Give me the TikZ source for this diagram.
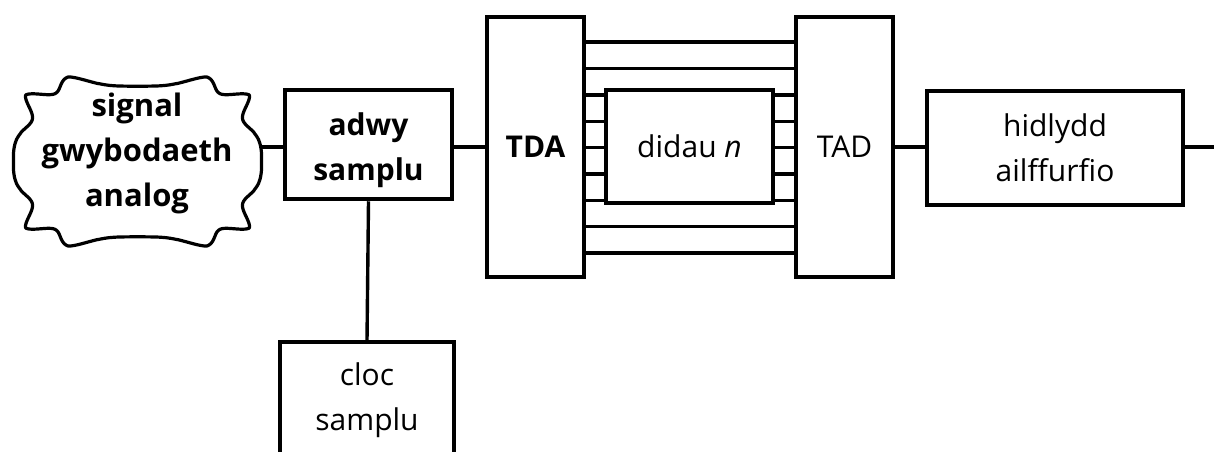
\documentclass[tikz,border=0pt]{standalone}
\usepackage{fontspec}
\setmainfont{Open Sans}[Ligatures=NoCommon]
\begin{document}
\begin{tikzpicture}[x=1pt,y=-1pt,
  thickbox/.style={draw,line width=4.5pt,inner sep=0pt,align=center,fill=white},
  thinbox/.style={draw,line width=3.4pt,inner sep=0pt,align=center,fill=white},
  conn/.style={line width=3.4pt},
  chan/.style={line width=3.4pt},
  lbl/.style={font=\fontsize{30}{45}\selectfont,align=center},
  blbl/.style={font=\fontsize{30}{45}\selectfont\bfseries,align=center}]
\useasboundingbox (0,0) rectangle (1214,451);
% cloud
\draw[line width=3.2pt,fill=white] plot[domain=0.25:360.25,samples=721,smooth,variable=\t]
  ({137.5+116*sign(cos(\t))*abs(cos(\t))^0.5*(1+0.07*(1-2*abs(sin(5*\t))^1.5))},
   {161.5+81*sign(sin(\t))*abs(sin(\t))^0.5*(1+0.07*(1-2*abs(sin(5*\t))^1.5))}) -- cycle;
\node[blbl,font=\fontsize{31}{45}\selectfont\bfseries] (cloud) at (137,153) {signal\\gwybodaeth\\analog};
\coordinate (cloudE) at (261,147);
% boxes
\node[thickbox,minimum width=167pt,minimum height=109pt] (adwy) at (368.5,144.5) {};
\node[blbl] (adwyT) at (368.5,150) {adwy\\samplu};
\node[thinbox,minimum width=174pt,minimum height=160pt] (cloc) at (367,422) {};
\node[lbl] (clocT) at (367,400) {cloc\\samplu};
\node[thickbox,blbl,minimum width=97pt,minimum height=260pt] (TDA) at (535.5,147) {TDA};
\node[thickbox,lbl,minimum width=97pt,minimum height=260pt] (TAD) at (844.5,147) {TAD};
\node[thickbox,lbl,minimum width=167pt,minimum height=113pt] (didau) at (689.5,146.5) {didau \textit{n}};
\node[thickbox,lbl,minimum width=256pt,minimum height=114pt] (hid) at (1055,148) {hidlydd\\ailffurfio};
\coordinate (out) at (1214,147);
% connectors
\draw[conn] (cloudE) -- (adwy.west |- cloudE);
\draw[conn] (adwy.east |- cloudE) -- (TDA.west |- cloudE);
\draw[conn] (adwy.south) -- (cloc.north);
\draw[conn] (TAD.east |- cloudE) -- (hid.west |- cloudE);
\draw[conn] (hid.east |- out) -- (out);
% channels
\foreach \y in {42,68.4,226.6,253}
  \draw[chan] (TDA.east |- 0,\y) -- (TAD.west |- 0,\y);
\foreach \y in {95,121.5,147.5,174,200.5}{
  \draw[chan] (TDA.east |- 0,\y) -- (didau.west |- 0,\y);
  \draw[chan] (didau.east |- 0,\y) -- (TAD.west |- 0,\y);}
\end{tikzpicture}
\end{document}
